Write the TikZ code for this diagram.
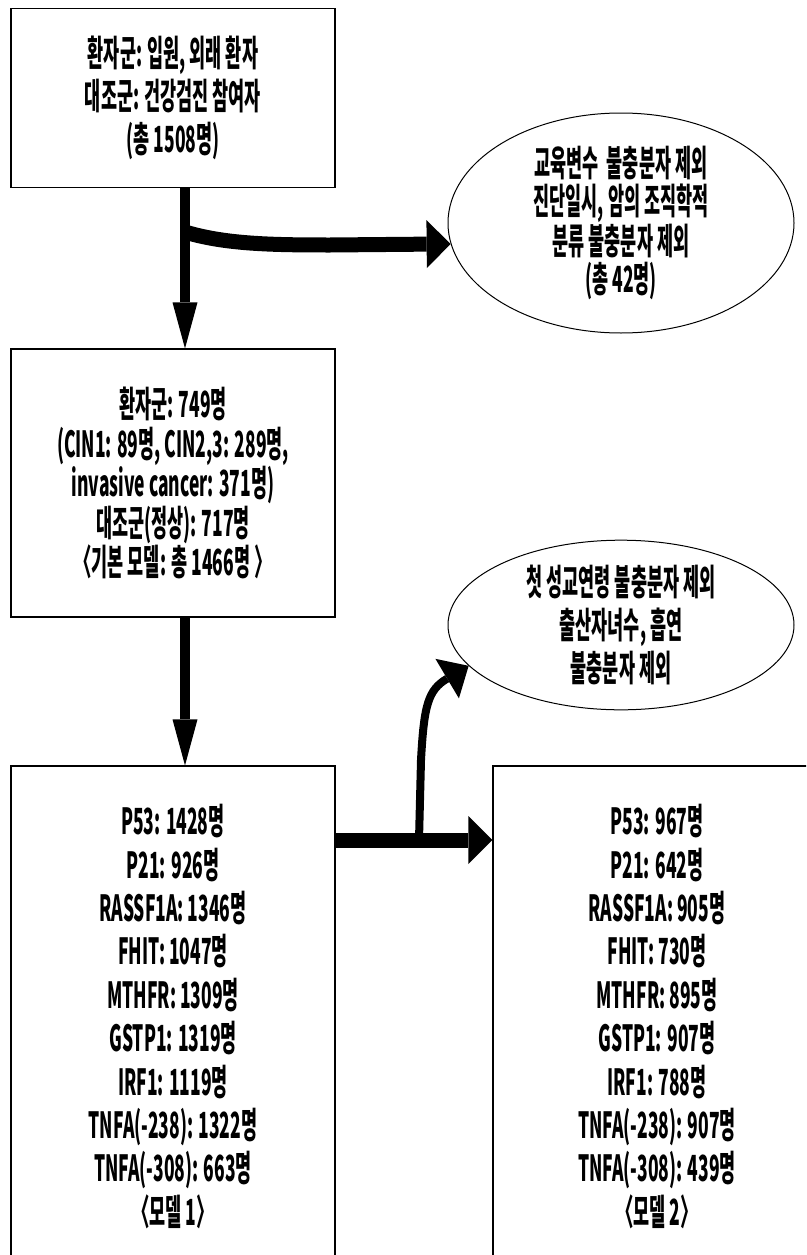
\documentclass[tikz,border=0pt]{standalone}
\usepackage{fontspec}
\newfontfamily\krfont[FakeStretch=0.485]{Noto Sans CJK KR}
\usetikzlibrary{shapes.geometric,arrows.meta}

\tikzset{
  flowbox/.style={draw,line width=1.1pt,rectangle,inner sep=0pt,align=center},
  flowoval/.style={draw,line width=1pt,ellipse,inner sep=0pt,align=center},
  downarrow/.style={line width=10pt,-{Triangle[length=46pt,width=25pt,line width=0pt]}},
  sidearrow/.style={line width=15pt,-{Triangle[length=24pt,width=48pt,line width=0pt]}},
  bentarrow/.style={line width=8pt,-{Triangle[length=25pt,width=46pt,line width=0pt]}},
}

\begin{document}
\begin{tikzpicture}[x=1pt,y=-1pt,font=\krfont\bfseries\fontsize{36}{43}\selectfont]
  \useasboundingbox (0,0) rectangle (806,1255);
  \clip (0,0) rectangle (806,1255);
  \node[flowbox,minimum width=324pt,minimum height=179pt] (cohort) at (173,98)
    {환자군: 입원, 외래 환자\\대조군: 건강검진 참여자\\(총 1508명)};
  \node[flowoval,minimum width=346pt,minimum height=220pt,
        font=\krfont\bfseries\fontsize{36}{38.5}\selectfont] (excl1) at (621,223)
    {교육변수\ \ 불충분자 제외\\진단일시, 암의 조직학적\\분류 불충분자 제외\\(총 42명)};
  \node[flowbox,minimum width=324pt,minimum height=268pt,
        font=\krfont\bfseries\fontsize{36}{39.5}\selectfont] (basemodel) at (173,483)
    {환자군: 749명\\(CIN1: 89명, CIN2,3: 289명,\\invasive cancer: 371명)\\대조군(정상): 717명\\〈기본 모델: 총 1466명 〉};
  \node[flowoval,minimum width=346pt,minimum height=164pt] (excl2) at (621,625)
    {첫 성교연령 불충분자 제외\\출산자녀수, 흡연\\불충분자 제외};
  \node[flowbox,minimum width=324pt,minimum height=501pt,
        font=\krfont\bfseries\fontsize{36}{43.4}\selectfont] (model1) at (173,1016.5)
    {P53: 1428명\\P21: 926명\\RASSF1A: 1346명\\FHIT: 1047명\\MTHFR: 1309명\\GSTP1: 1319명\\IRF1: 1119명\\TNFA(-238): 1322명\\TNFA(-308): 663명\\〈모델 1〉};
  \node[flowbox,minimum width=328pt,minimum height=501pt,
        font=\krfont\bfseries\fontsize{36}{43.4}\selectfont] (model2) at (657,1016.5)
    {P53: 967명\\P21: 642명\\RASSF1A: 905명\\FHIT: 730명\\MTHFR: 895명\\GSTP1: 907명\\IRF1: 788명\\TNFA(-238): 907명\\TNFA(-308): 439명\\〈모델 2〉};

  \coordinate (split1) at (185,232);
  \coordinate (split2) at (419,840);
  \draw[downarrow] ([xshift=12pt]cohort.south) -- ([xshift=12pt]basemodel.north);
  \draw[sidearrow] (split1) .. controls (225,244) and (270,245) .. (330,245) -- (excl1.187);
  \draw[downarrow] ([xshift=12pt]basemodel.south) -- ([xshift=12pt]model1.north);
  \draw[sidearrow] ([yshift=176.5pt]model1.east) -- ([yshift=176.5pt]model2.west);
  \draw[bentarrow] (split2) -- (421,760) .. controls (424,705) and (428,690) .. (excl2.195);
\end{tikzpicture}
\end{document}
